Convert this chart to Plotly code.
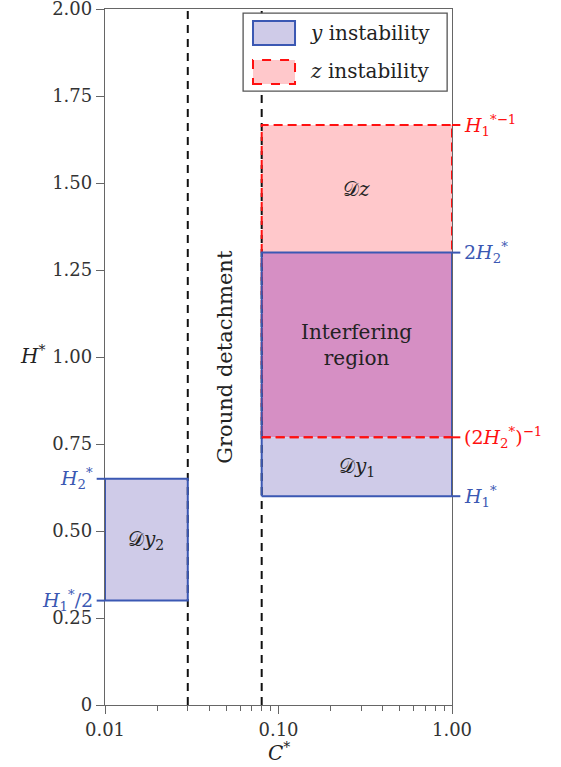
import math
import plotly.graph_objects as go

# ---- data ----
C_RANGE = [0.01, 1.0]              # C* axis extent
H_RANGE = [0.0, 2.0]               # H* axis extent
C_SEP = 0.03                       # left dashed line
C_DET = 0.08                       # ground detachment line
H1 = 0.60                          # H1*
H2 = 0.65                          # H2*
DY2 = [H1 / 2, H2]                 # Dy2 band
DY_RIGHT = [H1, 2 * H2]            # y instability band (right)
DZ = [1 / (2 * H2), 1 / H1]        # z instability band
Y_TICKS = [0, 0.25, 0.5, 0.75, 1.0, 1.25, 1.5, 1.75, 2.0]
Y_TICKTEXT = ["0", "0.25", "0.50", "0.75", "1.00", "1.25", "1.50", "1.75", "2.00"]
X_TICKS = [0.01, 0.1, 1.0]
X_TICKTEXT = ["0.01", "0.10", "1.00"]

BLUE = "#3b58b3"
RED = "#ff1010"
LAV = "#cfcbe8"
PINK = "#ffc8cb"
MAG = "#d68fc4"
FONT = "DejaVu Serif"
TXT = "#222"


def rect(x0, x1, y0, y1):
    return [x0, x1, x1, x0, x0], [y0, y0, y1, y1, y0]


fig = go.Figure()

def fill(x0, x1, y0, y1, color):
    xs, ys = rect(x0, x1, y0, y1)
    fig.add_trace(go.Scatter(x=xs, y=ys, mode="lines", fill="toself",
                             fillcolor=color, line=dict(width=0),
                             showlegend=False, hoverinfo="skip"))

def outline(x0, x1, y0, y1, color, dash="solid"):
    xs, ys = rect(x0, x1, y0, y1)
    fig.add_trace(go.Scatter(x=xs, y=ys, mode="lines",
                             line=dict(color=color, width=2, dash=dash),
                             showlegend=False, hoverinfo="skip"))

# fills
fill(C_DET, C_RANGE[1], DY_RIGHT[1], DZ[1], PINK)
fill(C_DET, C_RANGE[1], DZ[0], DY_RIGHT[1], MAG)
fill(C_DET, C_RANGE[1], DY_RIGHT[0], DZ[0], LAV)
fill(C_RANGE[0], C_SEP, DY2[0], DY2[1], LAV)

# black dashed verticals
for c in [C_SEP, C_DET]:
    fig.add_trace(go.Scatter(x=[c, c], y=H_RANGE, mode="lines",
                             line=dict(color="#111", width=2, dash="8px,6px"),
                             showlegend=False, hoverinfo="skip"))

# outlines
outline(C_DET, C_RANGE[1], DZ[0], DZ[1], RED, dash="9px,5px")
outline(C_DET, C_RANGE[1], DY_RIGHT[0], DY_RIGHT[1], BLUE)
fig.add_trace(go.Scatter(x=[C_DET, C_RANGE[1]], y=[DZ[0], DZ[0]], mode="lines",
                         line=dict(color=RED, width=2, dash="9px,5px"),
                         showlegend=False, hoverinfo="skip"))
outline(C_RANGE[0], C_SEP, DY2[0], DY2[1], BLUE)

shapes = []
annotations = []

# side tick labels
right_labels = [
    (DZ[1], RED, "<i>H</i><sub>1</sub><sup>*−1</sup>"),
    (DY_RIGHT[1], BLUE, "2<i>H</i><sub>2</sub><sup>*</sup>"),
    (DZ[0], RED, "(2<i>H</i><sub>2</sub><sup>*</sup>)<sup>−1</sup>"),
    (DY_RIGHT[0], BLUE, "<i>H</i><sub>1</sub><sup>*</sup>"),
]
for yv, col, txt in right_labels:
    shapes.append(dict(type="line", xref="paper", yref="y", x0=1.0, x1=1.024,
                       y0=yv, y1=yv, line=dict(color=col, width=2)))
    annotations.append(dict(xref="paper", yref="y", x=1.03, y=yv, text=txt,
                            showarrow=False, xanchor="left", yanchor="middle",
                            font=dict(family=FONT, size=19, color=col)))
left_labels = [
    (DY2[1], BLUE, "<i>H</i><sub>2</sub><sup>*</sup>"),
    (DY2[0], BLUE, "<i>H</i><sub>1</sub><sup>*</sup>/2"),
]
for yv, col, txt in left_labels:
    shapes.append(dict(type="line", xref="paper", yref="y", x0=-0.024, x1=0.0,
                       y0=yv, y1=yv, line=dict(color=col, width=2)))
    annotations.append(dict(xref="paper", yref="y", x=-0.03, y=yv, text=txt,
                            showarrow=False, xanchor="right", yanchor="middle",
                            font=dict(family=FONT, size=19, color=col)))

# region labels
xr = math.sqrt(C_DET * C_RANGE[1])
xl = math.sqrt(C_RANGE[0] * C_SEP)
region_labels = [
    (xr, (DY_RIGHT[1] + DZ[1]) / 2, "𝒟<i>z</i>"),
    (xr, (DZ[0] + DY_RIGHT[1]) / 2, "Interfering<br>region"),
    (xr, (DY_RIGHT[0] + DZ[0]) / 2, "𝒟<i>y</i><sub>1</sub>"),
    (xl, (DY2[0] + DY2[1]) / 2, "𝒟<i>y</i><sub>2</sub>"),
]
for xv, yv, txt in region_labels:
    annotations.append(dict(x=math.log10(xv), y=yv, text=txt, showarrow=False,
                            xanchor="center", yanchor="middle",
                            font=dict(family=FONT, size=20, color=TXT)))
annotations.append(dict(x=math.log10(math.sqrt(C_SEP * C_DET)), y=1.0,
                        text="Ground detachment", textangle=-90, showarrow=False,
                        xanchor="center", yanchor="middle",
                        font=dict(family=FONT, size=21, color=TXT)))

# axis titles
annotations.append(dict(xref="paper", yref="paper", x=-0.21, y=0.503,
                        text="<i>H</i><sup>*</sup>", showarrow=False,
                        xanchor="center", yanchor="middle",
                        font=dict(family=FONT, size=20, color=TXT)))
annotations.append(dict(xref="paper", yref="paper", x=0.5, y=-0.068,
                        text="<i>C</i><sup>*</sup>", showarrow=False,
                        xanchor="center", yanchor="middle",
                        font=dict(family=FONT, size=20, color=TXT)))

# legend box
shapes.append(dict(type="rect", xref="paper", yref="paper", x0=0.398, x1=0.986,
                   y0=0.882, y1=0.994, fillcolor="white",
                   line=dict(color="#555", width=1.3), layer="above"))
shapes.append(dict(type="rect", xref="paper", yref="paper", x0=0.4265, x1=0.5476,
                   y0=0.9483, y1=0.9828, fillcolor=LAV,
                   line=dict(color=BLUE, width=2), layer="above"))
shapes.append(dict(type="rect", xref="paper", yref="paper", x0=0.4265, x1=0.5476,
                   y0=0.8922, y1=0.9267, fillcolor=PINK,
                   line=dict(color=RED, width=2, dash="dash"), layer="above"))
annotations.append(dict(xref="paper", yref="paper", x=0.585, y=0.9655,
                        text="<i>y</i> instability", showarrow=False,
                        xanchor="left", yanchor="middle",
                        font=dict(family=FONT, size=20, color=TXT)))
annotations.append(dict(xref="paper", yref="paper", x=0.585, y=0.9109,
                        text="<i>z</i> instability", showarrow=False,
                        xanchor="left", yanchor="middle",
                        font=dict(family=FONT, size=20, color=TXT)))

axis_common = dict(showgrid=False, zeroline=False, showline=True,
                   linecolor="#666", linewidth=1.3, mirror=True,
                   ticks="outside", ticklen=8, tickcolor="#666", tickwidth=1.3,
                   ticklabeloverflow="allow", automargin=False,
                   tickfont=dict(family=FONT, size=18, color="#333"))

fig.update_layout(
    width=561, height=767,
    margin=dict(l=105, r=109, t=9, b=62),
    paper_bgcolor="white", plot_bgcolor="white",
    showlegend=False,
    shapes=shapes, annotations=annotations,
    xaxis=dict(type="log", range=[math.log10(C_RANGE[0]), math.log10(C_RANGE[1])],
               tickvals=X_TICKS, ticktext=X_TICKTEXT,
               minor=dict(ticks="outside", ticklen=5, tickcolor="#666",
                          tickwidth=1.3, dtick="D1", showgrid=False),
               **axis_common),
    yaxis=dict(range=H_RANGE, tickvals=Y_TICKS, ticktext=Y_TICKTEXT, **axis_common),
)

fig.write_html("out.html")
